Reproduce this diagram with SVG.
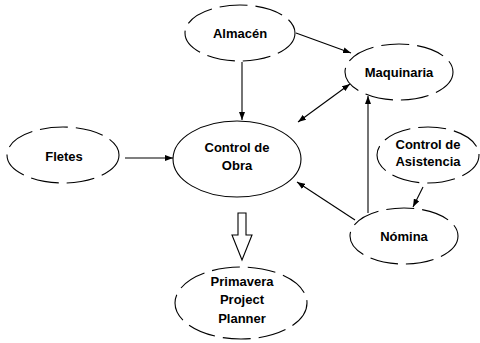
<svg xmlns="http://www.w3.org/2000/svg" width="480" height="343" viewBox="0 0 480 343">
<defs>
<marker id="ah" markerWidth="8" markerHeight="6" refX="8" refY="3" orient="auto" markerUnits="userSpaceOnUse">
<path d="M0,0 L8,3 L0,6 z" fill="#000"/>
</marker>
<marker id="ahs" markerWidth="8" markerHeight="6" refX="0" refY="3" orient="auto" markerUnits="userSpaceOnUse">
<path d="M8,0 L0,3 L8,6 z" fill="#000"/>
</marker>
<style>
.n{fill:#fff;stroke:#000;stroke-width:1.1}
.d{stroke-dasharray:28 8}
.t{font-family:"Liberation Sans",Arial,sans-serif;font-weight:bold;font-size:13px;text-anchor:middle;fill:#000}
.c{stroke:#000;stroke-width:1.1;fill:none;marker-end:url(#ah)}
</style>
</defs>
<rect width="480" height="343" fill="#fff"/>
<g id="connectors">
<line class="c" x1="125" y1="158" x2="173" y2="158"/>
<line class="c" x1="242" y1="62" x2="242" y2="120"/>
<line class="c" x1="296" y1="33" x2="351" y2="53"/>
<line class="c" x1="298" y1="122" x2="350" y2="84" style="marker-start:url(#ahs)"/>
<line class="c" x1="368" y1="213" x2="368" y2="96"/>
<line class="c" x1="355" y1="220" x2="297" y2="182"/>
<line class="c" x1="423" y1="187" x2="413" y2="207"/>
<path d="M238,213 H246 V235 H252 L242,260 L232,235 H238 Z" fill="#fff" stroke="#000" stroke-width="1.1"/>
</g>
<g id="almacen">
<ellipse class="n d" cx="240" cy="33" rx="55" ry="28"/>
<text class="t" x="240" y="38">Almacén</text>
</g>
<g id="maquinaria">
<ellipse class="n d" cx="399" cy="72" rx="54" ry="28"/>
<text class="t" x="399" y="77">Maquinaria</text>
</g>
<g id="fletes">
<ellipse class="n d" cx="63" cy="155" rx="56" ry="28"/>
<text class="t" x="64" y="161">Fletes</text>
</g>
<g id="control-obra">
<ellipse class="n" cx="237" cy="159" rx="64" ry="38"/>
<text class="t" x="237" y="152">Control de</text>
<text class="t" x="237" y="170">Obra</text>
</g>
<g id="control-asistencia">
<ellipse class="n d" cx="428" cy="155" rx="51" ry="28"/>
<text class="t" x="428" y="149">Control de</text>
<text class="t" x="428" y="166">Asistencia</text>
</g>
<g id="nomina">
<ellipse class="n d" cx="404" cy="236" rx="54" ry="28"/>
<text class="t" x="404" y="241">Nómina</text>
</g>
<g id="primavera">
<ellipse class="n d" cx="241" cy="303" rx="66" ry="36"/>
<text class="t" x="242" y="286">Primavera</text>
<text class="t" x="242" y="304">Project</text>
<text class="t" x="242" y="323">Planner</text>
</g>
</svg>
